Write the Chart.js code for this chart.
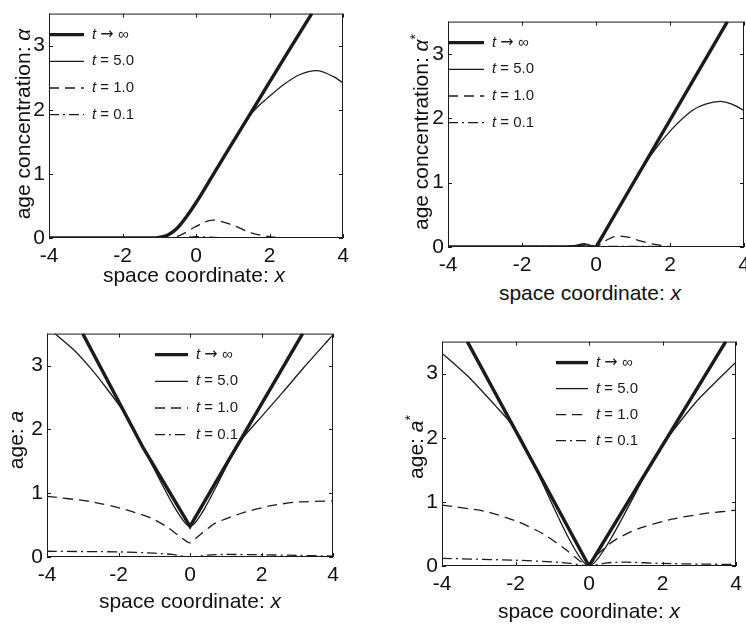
<!DOCTYPE html>
<html>
<head>
<meta charset="utf-8">
<script src="https://cdn.jsdelivr.net/npm/chart.js@4.4.1/dist/chart.umd.min.js"></script>
<style>
  body { margin: 0; background: #fff; overflow: hidden; }
  #page { position: relative; width: 746px; height: 625px; overflow: hidden; font-family: "Liberation Sans", Arial, sans-serif; color: #111; }
  canvas { position: absolute; }
  .xt, .yt { position: absolute; font-size: 21px; white-space: nowrap; transform: translate(-50%, -50%); }
  .yt { transform: translate(-50%, -50%) rotate(-90deg); }
</style>
</head>
<body>
<div id="page">
  <canvas id="c1"></canvas>
  <canvas id="c2"></canvas>
  <canvas id="c3"></canvas>
  <canvas id="c4"></canvas>
  <div class="yt" style="left:23px;top:124px">age concentration: <i>α</i></div>
  <div class="xt" style="left:194px;top:275px">space coordinate: <i>x</i></div>
  <div class="yt" style="left:420px;top:132px">age concentration: <i>α</i><sup style="font-size:14px">*</sup></div>
  <div class="xt" style="left:590px;top:293px">space coordinate: <i>x</i></div>
  <div class="yt" style="left:16px;top:440px">age: <i>a</i></div>
  <div class="xt" style="left:190px;top:601px">space coordinate: <i>x</i></div>
  <div class="yt" style="left:415px;top:447px">age: <i>a</i><sup style="font-size:14px">*</sup></div>
  <div class="xt" style="left:589px;top:611px">space coordinate: <i>x</i></div>
</div>
<script>
// legend text, same for every panel
const legendLabels = ['t → ∞', 't = 5.0', 't = 1.0', 't = 0.1'];
const xTicks = [-4, -2, 0, 2, 4];
const yTicks = [0, 1, 2, 3];

// panel 1: age concentration alpha
const a1InfX = [-4, -2, -1.2, -1.0, -0.75, -0.5, -0.25, 0, 0.5, 1.0, 1.5, 2.0, 2.5, 3.15];
const a1InfY = [0, 0, 0, 0.01, 0.05, 0.16, 0.34, 0.55, 1.02, 1.49, 1.96, 2.43, 2.9, 3.5];
const a1T5X = [-4, -2, -1.2, -1.0, -0.75, -0.5, -0.25, 0, 0.5, 1.0, 1.2, 1.45, 1.7, 1.92, 2.38, 2.83, 3.28, 3.73, 4];
const a1T5Y = [0, 0, 0, 0.01, 0.05, 0.16, 0.34, 0.55, 1.02, 1.49, 1.68, 1.9, 2.06, 2.17, 2.39, 2.55, 2.61, 2.52, 2.42];
const a1T1X = [-4, -1, -0.6, -0.3, 0, 0.45, 1.0, 1.5, 2.0, 2.5, 4];
const a1T1Y = [0, 0, 0.01, 0.08, 0.18, 0.28, 0.2, 0.08, 0.02, 0, 0];
const a1T01X = [-4, -0.5, 0, 0.5, 1, 4];
const a1T01Y = [0, 0, 0.02, 0.01, 0, 0];

// panel 2: age concentration alpha*
const a2InfX = [-4, 0, 3.55];
const a2InfY = [0, 0, 3.5];
const a2T5X = [-4, -1, -0.6, -0.3, 0, 0.5, 1.0, 1.5, 2.05, 2.6, 2.96, 3.36, 3.67, 4];
const a2T5Y = [0, 0, 0.02, 0.05, 0, 0.49, 0.98, 1.44, 1.83, 2.12, 2.22, 2.26, 2.22, 2.12];
const a2T1X = [-4, -0.8, -0.4, -0.2, 0, 0.17, 0.44, 0.62, 0.9, 1.16, 1.6, 1.96, 2.4, 4];
const a2T1Y = [0, 0, 0.03, 0.04, 0, 0.07, 0.15, 0.17, 0.15, 0.1, 0.04, 0.01, 0, 0];
const a2T01X = [-4, -0.3, 0, 0.3, 4];
const a2T01Y = [0, 0.01, 0, 0.01, 0];

// panel 3: age a
const b1InfX = [-3.0, -1.3, 0, 3.15];
const b1InfY = [3.5, 1.7, 0.48, 3.5];
const b1T5X = [-3.78, -3.26, -2.8, -2.33, -1.87, -1.59, -1.3, 0, 1.2, 1.5, 2.0, 2.61, 3.2, 3.87, 4];
const b1T5Y = [3.5, 3.25, 2.97, 2.64, 2.29, 2.03, 1.7, 0.48, 1.61, 1.88, 2.2, 2.59, 2.98, 3.4, 3.48];
const b1T1X = [-4, -2.79, -1.84, -1.09, -0.61, -0.24, 0, 0.24, 0.71, 1.47, 2.22, 2.98, 4];
const b1T1Y = [0.95, 0.87, 0.75, 0.61, 0.46, 0.3, 0.22, 0.33, 0.53, 0.69, 0.8, 0.86, 0.88];
const b1T01X = [-4, -2, -1, -0.5, 0, 0.5, 1, 2, 3, 4];
const b1T01Y = [0.09, 0.08, 0.06, 0.04, 0, 0.03, 0.04, 0.035, 0.025, 0.015];

// panel 4: age a*
const b2InfX = [-3.31, 0, 3.72];
const b2InfY = [3.5, 0, 3.5];
const b2T5X = [-4, -3.26, -2.53, -2.2, -1.89, -1.6, 0, 1.7, 1.93, 2.29, 2.93, 3.5, 4];
const b2T5Y = [3.32, 2.94, 2.49, 2.28, 2.03, 1.7, 0, 1.6, 1.81, 2.11, 2.57, 2.9, 3.18];
const b2T1X = [-4, -2.8, -1.89, -1.24, -0.69, -0.23, 0, 0.23, 0.69, 1.33, 2.25, 3.17, 4];
const b2T1Y = [0.95, 0.85, 0.68, 0.5, 0.28, 0.07, 0, 0.18, 0.4, 0.58, 0.73, 0.82, 0.87];
const b2T01X = [-4, -2, -1, -0.5, 0, 0.5, 1, 2, 3, 4];
const b2T01Y = [0.12, 0.09, 0.065, 0.04, 0, 0.05, 0.06, 0.04, 0.03, 0.025];

const ink = '#1b1b1b';
const FONT = '"Liberation Sans", Arial, sans-serif';

function pts(xs, ys) {
    return xs.map((x, i) => ({x: x, y: ys[i]}));
}

// styles for the four curves: t -> inf, t = 5, t = 1, t = 0.1
const styles = [
    {borderWidth: 3.4, borderDash: []},
    {borderWidth: 1.3, borderDash: []},
    {borderWidth: 1.3, borderDash: [10, 6]},
    {borderWidth: 1.3, borderDash: [10, 4, 2, 4]},
];

// legend text: italic t, arrow from DejaVu (longer), rest normal
function drawLabel(ctx, label, x, y) {
    ctx.font = 'italic 15px ' + FONT;
    ctx.fillText(label[0], x, y);
    x += ctx.measureText(label[0]).width;
    label.slice(1).split(/(→)/).forEach(part => {
        if (!part) return;
        ctx.font = part === '→' ? '16px "DejaVu Sans"' : '15px ' + FONT;
        ctx.fillText(part, x, y);
        x += ctx.measureText(part).width;
    });
}

// MATLAB style box, inward ticks and legend inside the axes
const boxPlugin = {
    id: 'box',
    afterDatasetsDraw(chart, args, opts) {
        const ctx = chart.ctx;
        const a = chart.chartArea;
        const xs = chart.scales.x, ys = chart.scales.y;
        ctx.save();
        ctx.strokeStyle = ink;
        ctx.lineWidth = 1;
        ctx.setLineDash([]);
        ctx.strokeRect(a.left + 0.5, a.top + 0.5, a.right - a.left - 1, a.bottom - a.top - 1);
        ctx.beginPath();
        xs.ticks.forEach(t => {
            const px = Math.round(xs.getPixelForValue(t.value)) + 0.5;
            ctx.moveTo(px, a.bottom); ctx.lineTo(px, a.bottom - 4);
            ctx.moveTo(px, a.top); ctx.lineTo(px, a.top + 4);
        });
        ys.ticks.forEach(t => {
            const py = Math.round(ys.getPixelForValue(t.value)) + 0.5;
            ctx.moveTo(a.left, py); ctx.lineTo(a.left + 4, py);
            ctx.moveTo(a.right, py); ctx.lineTo(a.right - 4, py);
        });
        ctx.stroke();

        // legend
        chart.data.datasets.forEach((ds, i) => {
            const y = a.top + opts.y0 + i * opts.dy;
            ctx.beginPath();
            ctx.lineWidth = ds.borderWidth;
            ctx.setLineDash(ds.borderDash);
            ctx.moveTo(a.left + opts.x0, y);
            ctx.lineTo(a.left + opts.x0 + opts.len, y);
            ctx.stroke();
            ctx.setLineDash([]);
            ctx.fillStyle = ink;
            ctx.textBaseline = 'middle';
            drawLabel(ctx, ds.label, a.left + opts.x0 + opts.len + 8, y);
        });
        ctx.restore();
    }
};

function makePanel(id, plot, series, interp, legendPos) {
    const canvas = document.getElementById(id);
    const padL = 48, padT = 10, padR = 20, padB = 34;
    canvas.width = plot.r - plot.l + padL + padR;
    canvas.height = plot.b - plot.t + padT + padB;
    canvas.style.left = (plot.l - padL) + 'px';
    canvas.style.top = (plot.t - padT) + 'px';

    new Chart(canvas.getContext('2d'), {
        type: 'scatter',
        data: {
            datasets: series.map((s, i) => ({
                label: legendLabels[i],
                data: pts(s[0], s[1]),
                showLine: true,
                borderColor: ink,
                backgroundColor: ink,
                borderWidth: styles[i].borderWidth,
                borderDash: styles[i].borderDash,
                pointRadius: 0,
                cubicInterpolationMode: interp[i] === 'm' ? 'monotone' : 'default',
                tension: interp[i] === 'm' ? 0.4 : interp[i],
            }))
        },
        options: {
            responsive: false,
            animation: false,
            layout: {padding: {top: padT, right: padR, left: 0, bottom: 0}},
            plugins: {
                legend: {display: false},
                tooltip: {enabled: false},
                box: legendPos,
            },
            scales: {
                x: {
                    type: 'linear', min: -4, max: 4,
                    afterBuildTicks: scale => { scale.ticks = xTicks.map(v => ({value: v})); },
                    grid: {display: false, drawTicks: false},
                    border: {display: false},
                    ticks: {color: '#111', font: {family: FONT, size: 21}, padding: 6},
                    afterFit: scale => { scale.height = padB; },
                },
                y: {
                    type: 'linear', min: 0, max: 3.5,
                    afterBuildTicks: scale => { scale.ticks = yTicks.map(v => ({value: v})); },
                    ticks: {color: '#111', font: {family: FONT, size: 21}, padding: 4},
                    grid: {display: false, drawTicks: false},
                    border: {display: false},
                    afterFit: scale => { scale.width = padL; },
                }
            }
        },
        plugins: [boxPlugin]
    });
}

makePanel('c1', {l: 49, t: 7, r: 343, b: 238},
    [[a1InfX, a1InfY], [a1T5X, a1T5Y], [a1T1X, a1T1Y], [a1T01X, a1T01Y]],
    ['m', 'm', 'm', 'm'], {x0: 0, y0: 21, dy: 26.7, len: 35});
makePanel('c2', {l: 448, t: 15, r: 744, b: 247},
    [[a2InfX, a2InfY], [a2T5X, a2T5Y], [a2T1X, a2T1Y], [a2T01X, a2T01Y]],
    [0, 0.3, 0.3, 0.3], {x0: 0, y0: 21, dy: 26.7, len: 36});
makePanel('c3', {l: 47, t: 327, r: 333, b: 557},
    [[b1InfX, b1InfY], [b1T5X, b1T5Y], [b1T1X, b1T1Y], [b1T01X, b1T01Y]],
    [0, 0.2, 0.2, 0.2], {x0: 108, y0: 21, dy: 26.7, len: 33});
makePanel('c4', {l: 442, t: 335, r: 736, b: 566},
    [[b2InfX, b2InfY], [b2T5X, b2T5Y], [b2T1X, b2T1Y], [b2T01X, b2T01Y]],
    [0, 0.2, 0.2, 0.2], {x0: 114, y0: 21, dy: 26, len: 32});
</script>
</body>
</html>
